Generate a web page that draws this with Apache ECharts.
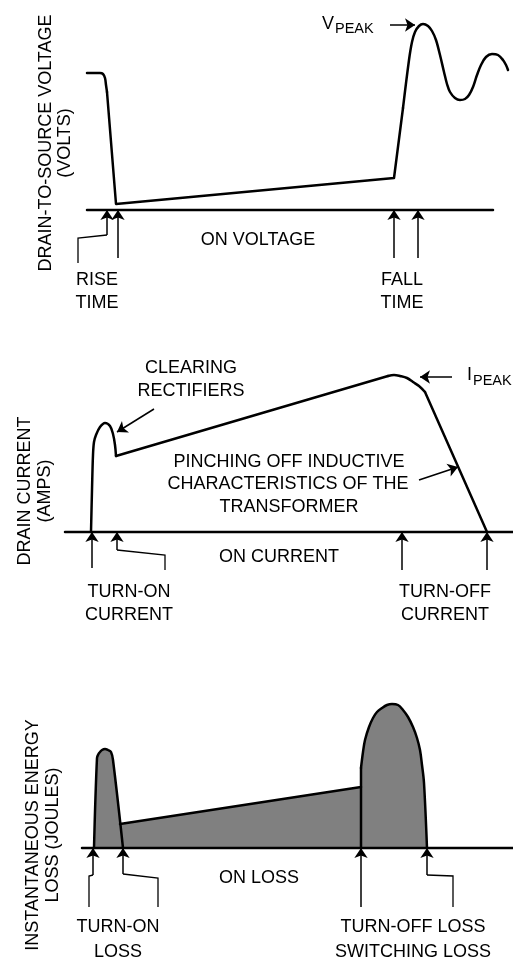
<!DOCTYPE html>
<html><head><meta charset="utf-8">
<script src="https://cdn.jsdelivr.net/npm/echarts@6/dist/echarts.min.js"></script>
<style>html,body{margin:0;padding:0;background:#fff}#c{width:513px;height:963px}</style>
</head><body><div id="c"></div>
<script>
// ---------- Panel 1: drain-to-source voltage (time units 0-100, value units) ----------
const vShoulder = [[14.8,68.5],[17.4,68.5],[18.0,68],[18.4,66],[18.6,62.5],[18.8,59]];
const vOnState = [[18.8,59],[20.6,3],[76.2,16],[78.0,51]];
const vRinging = [[78,51],[79.2,75],[79.8,84],[80.4,89],[81.2,92],[82,93],[83,92],[83.8,89.5],[84.6,85],[85.4,77.5],[86.2,69],[86.8,63],[87.4,59],[88.4,56],[89.4,55],[90.4,55.5],[91.2,57.5],[92,61.5],[92.8,67.5],[93.6,72.5],[94.6,76.5],[95.8,78],[97,77.5],[98,75],[98.6,72.5],[99,70]];
const vBaseline = [[14.8,0],[96,0]];
const vArrows = [[[18.8,-12.5],[18.8,0]],[[21.0,-24],[21.0,0]],[[76.2,-24],[76.2,0]],[[81.0,-24],[81.0,0]],[[75.4,92.5],[80.4,92.5]]];
const vLeaders = [[[13.0,-26.5],[13.0,-14],[18.8,-12.5]]];

// ---------- Panel 2: drain current ----------
const iRise = [[15.6,0],[15.8,21],[16.0,38.5],[16.2,45],[16.6,48.5],[17.4,52.5],[18.4,54.5],[19.4,53],[20.0,49],[20.4,43.5],[20.6,38]];
const iRamp = [[20.6,38],[75,78]];
const iPeak = [[75,78],[76.2,78.5],[77.4,78],[78.8,77],[80,75],[81.2,73],[82.4,70]];
const iFall = [[82.4,70],[94.8,0]];
const iBaseline = [[10.4,0],[100,0]];
const iArrows = [[[15.8,-18],[15.8,0]],[[20.8,-9],[20.8,0]],[[77.8,-19],[77.8,0]],[[94.8,-19],[94.8,0]],[[28.2,61.5],[20.8,50]],[[87.8,77.5],[81.4,77.5]],[[81.2,26],[89.0,32.5]]];
const iLeaders = [[[30.4,-19],[30.4,-11.5],[20.8,-9]]];

// ---------- Panel 3: instantaneous energy loss ----------
const lossTurnOn = [[16.2,0],[16.8,45],[17.1,47],[17.4,48],[17.8,49],[18.4,49.5],[19.0,49],[19.6,48],[20.0,44],[22.0,0]];
const lossOn = [[21.4,12],[69.6,30.5],[69.6,40]];
const lossTurnOff = [[69.6,40],[70.0,48],[70.4,54],[71.2,60.5],[72.0,65],[72.8,68],[73.8,70],[74.8,71.5],[75.8,72],[77,71.5],[78,69],[79,65.5],[80,60.5],[80.8,55],[81.4,49],[81.8,41.5],[82.2,32.5],[82.8,0]];
const lossEdge = [[69.6,0],[69.6,30.5]];
const lossBaseline = [[13.8,0],[100,0]];
const lossArrows = [[[16.0,-13.5],[16.0,0]],[[22.0,-13],[22.0,0]],[[69.6,-29.5],[69.6,0]],[[82.8,-13.5],[82.8,0]]];
const lossLeaders = [[[15.2,-29.5],[15.2,-14],[16.0,-13.5]],[[29.0,-29.5],[29.0,-15],[22.0,-13]],[[88.0,-29.5],[88.0,-14],[82.8,-13.5]]];

// ---------- Annotation texts ----------
const FONT = '"Liberation Sans", Arial, Helvetica, sans-serif';
const texts = [
  // panel 1
  {t:'ON VOLTAGE', x:258, y:240}, {t:'RISE', x:97, y:280}, {t:'TIME', x:97, y:303},
  {t:'FALL', x:402, y:280}, {t:'TIME', x:402, y:303},
  {t:'V', x:322, y:24, a:'left'}, {t:'PEAK', x:335, y:29, a:'left', s:14.5},
  {t:'DRAIN-TO-SOURCE VOLTAGE', x:46, y:143, r:1}, {t:'(VOLTS)', x:65, y:143, r:1},
  // panel 2
  {t:'ON CURRENT', x:279, y:557}, {t:'TURN-ON', x:129, y:592}, {t:'CURRENT', x:129, y:615},
  {t:'TURN-OFF', x:445, y:592}, {t:'CURRENT', x:445, y:615},
  {t:'CLEARING', x:191, y:368}, {t:'RECTIFIERS', x:191, y:391},
  {t:'PINCHING OFF INDUCTIVE', x:289, y:462}, {t:'CHARACTERISTICS OF THE', x:288, y:484}, {t:'TRANSFORMER', x:289, y:507},
  {t:'I', x:467, y:375, a:'left'}, {t:'PEAK', x:473, y:381, a:'left', s:14.5},
  {t:'DRAIN CURRENT', x:25, y:491, r:1}, {t:'(AMPS)', x:45, y:491, r:1},
  // panel 3
  {t:'ON LOSS', x:259, y:878}, {t:'TURN-ON', x:118, y:927}, {t:'LOSS', x:118, y:952},
  {t:'TURN-OFF LOSS', x:413, y:927}, {t:'SWITCHING LOSS', x:413, y:952},
  {t:'INSTANTANEOUS ENERGY', x:33, y:835, r:1}, {t:'LOSS (JOULES)', x:53, y:835, r:1}
];

const chart = echarts.init(document.getElementById('c'), null, {renderer:'canvas'});
const grids = [{top:10},{top:332},{top:648}].map(g => ({left:13, right:0, top:g.top, height:300}));
const xAxes = grids.map((g,i) => ({type:'value', gridIndex:i, min:0, max:100, show:false}));
const yAxes = grids.map((g,i) => ({type:'value', gridIndex:i, min:-50, max:100, show:false}));

const series = [];
function curve(data, gi, smooth, width, z) {
  series.push({type:'line', xAxisIndex:gi, yAxisIndex:gi, data, smooth: smooth ? 0.35 : false,
    showSymbol:false, symbol:'none', z: z || 3, lineStyle:{color:'#000', width: width || 2.5, cap:'round', join:'round'}});
}
function fill(data, gi, smooth) {
  series.push({type:'line', xAxisIndex:gi, yAxisIndex:gi, data, smooth: smooth ? 0.35 : false,
    showSymbol:false, symbol:'none', z:1, lineStyle:{width:0, opacity:0}, areaStyle:{color:'#808080', opacity:1}});
}
function arrows(segs, gi) {
  series.push({type:'lines', coordinateSystem:'cartesian2d', xAxisIndex:gi, yAxisIndex:gi, z:4,
    symbol:['none','arrow'], symbolSize:10, lineStyle:{color:'#000', width:1.5, opacity:1, curveness:0},
    data: segs.map(c => ({coords:c}))});
}
function leaders(segs, gi) {
  series.push({type:'lines', coordinateSystem:'cartesian2d', xAxisIndex:gi, yAxisIndex:gi, z:4, polyline:true,
    lineStyle:{color:'#000', width:1.3, opacity:1}, data: segs.map(c => ({coords:c}))});
}

// panel 1
curve(vBaseline, 0, false, 2.5);
curve(vShoulder, 0, true);
curve(vOnState, 0, false);
curve(vRinging, 0, true);
arrows(vArrows, 0); leaders(vLeaders, 0);
// panel 2
curve(iBaseline, 1, false, 2.5);
curve(iRise, 1, true);
curve(iRamp, 1, false);
curve(iPeak, 1, true);
curve(iFall, 1, false);
arrows(iArrows, 1); leaders(iLeaders, 1);
// panel 3
fill(lossTurnOn, 2, true); fill(lossOn, 2, false); fill(lossTurnOff, 2, true);
curve(lossBaseline, 2, false, 2.5);
curve(lossTurnOn, 2, true);
curve(lossOn, 2, false);
curve(lossTurnOff, 2, true);
curve(lossEdge, 2, false);
arrows(lossArrows, 2); leaders(lossLeaders, 2);

const graphic = texts.map(o => ({
  type:'text', x:o.x, y:o.y, rotation: o.r ? Math.PI/2 : 0, z:10,
  style:{text:o.t, fill:'#000', font: (o.s || 18) + 'px ' + FONT, textAlign:o.a || 'center', textVerticalAlign:'middle'}
}));

chart.setOption({animation:false, backgroundColor:'#fff', grid:grids, xAxis:xAxes, yAxis:yAxes, series, graphic});
</script></body></html>
